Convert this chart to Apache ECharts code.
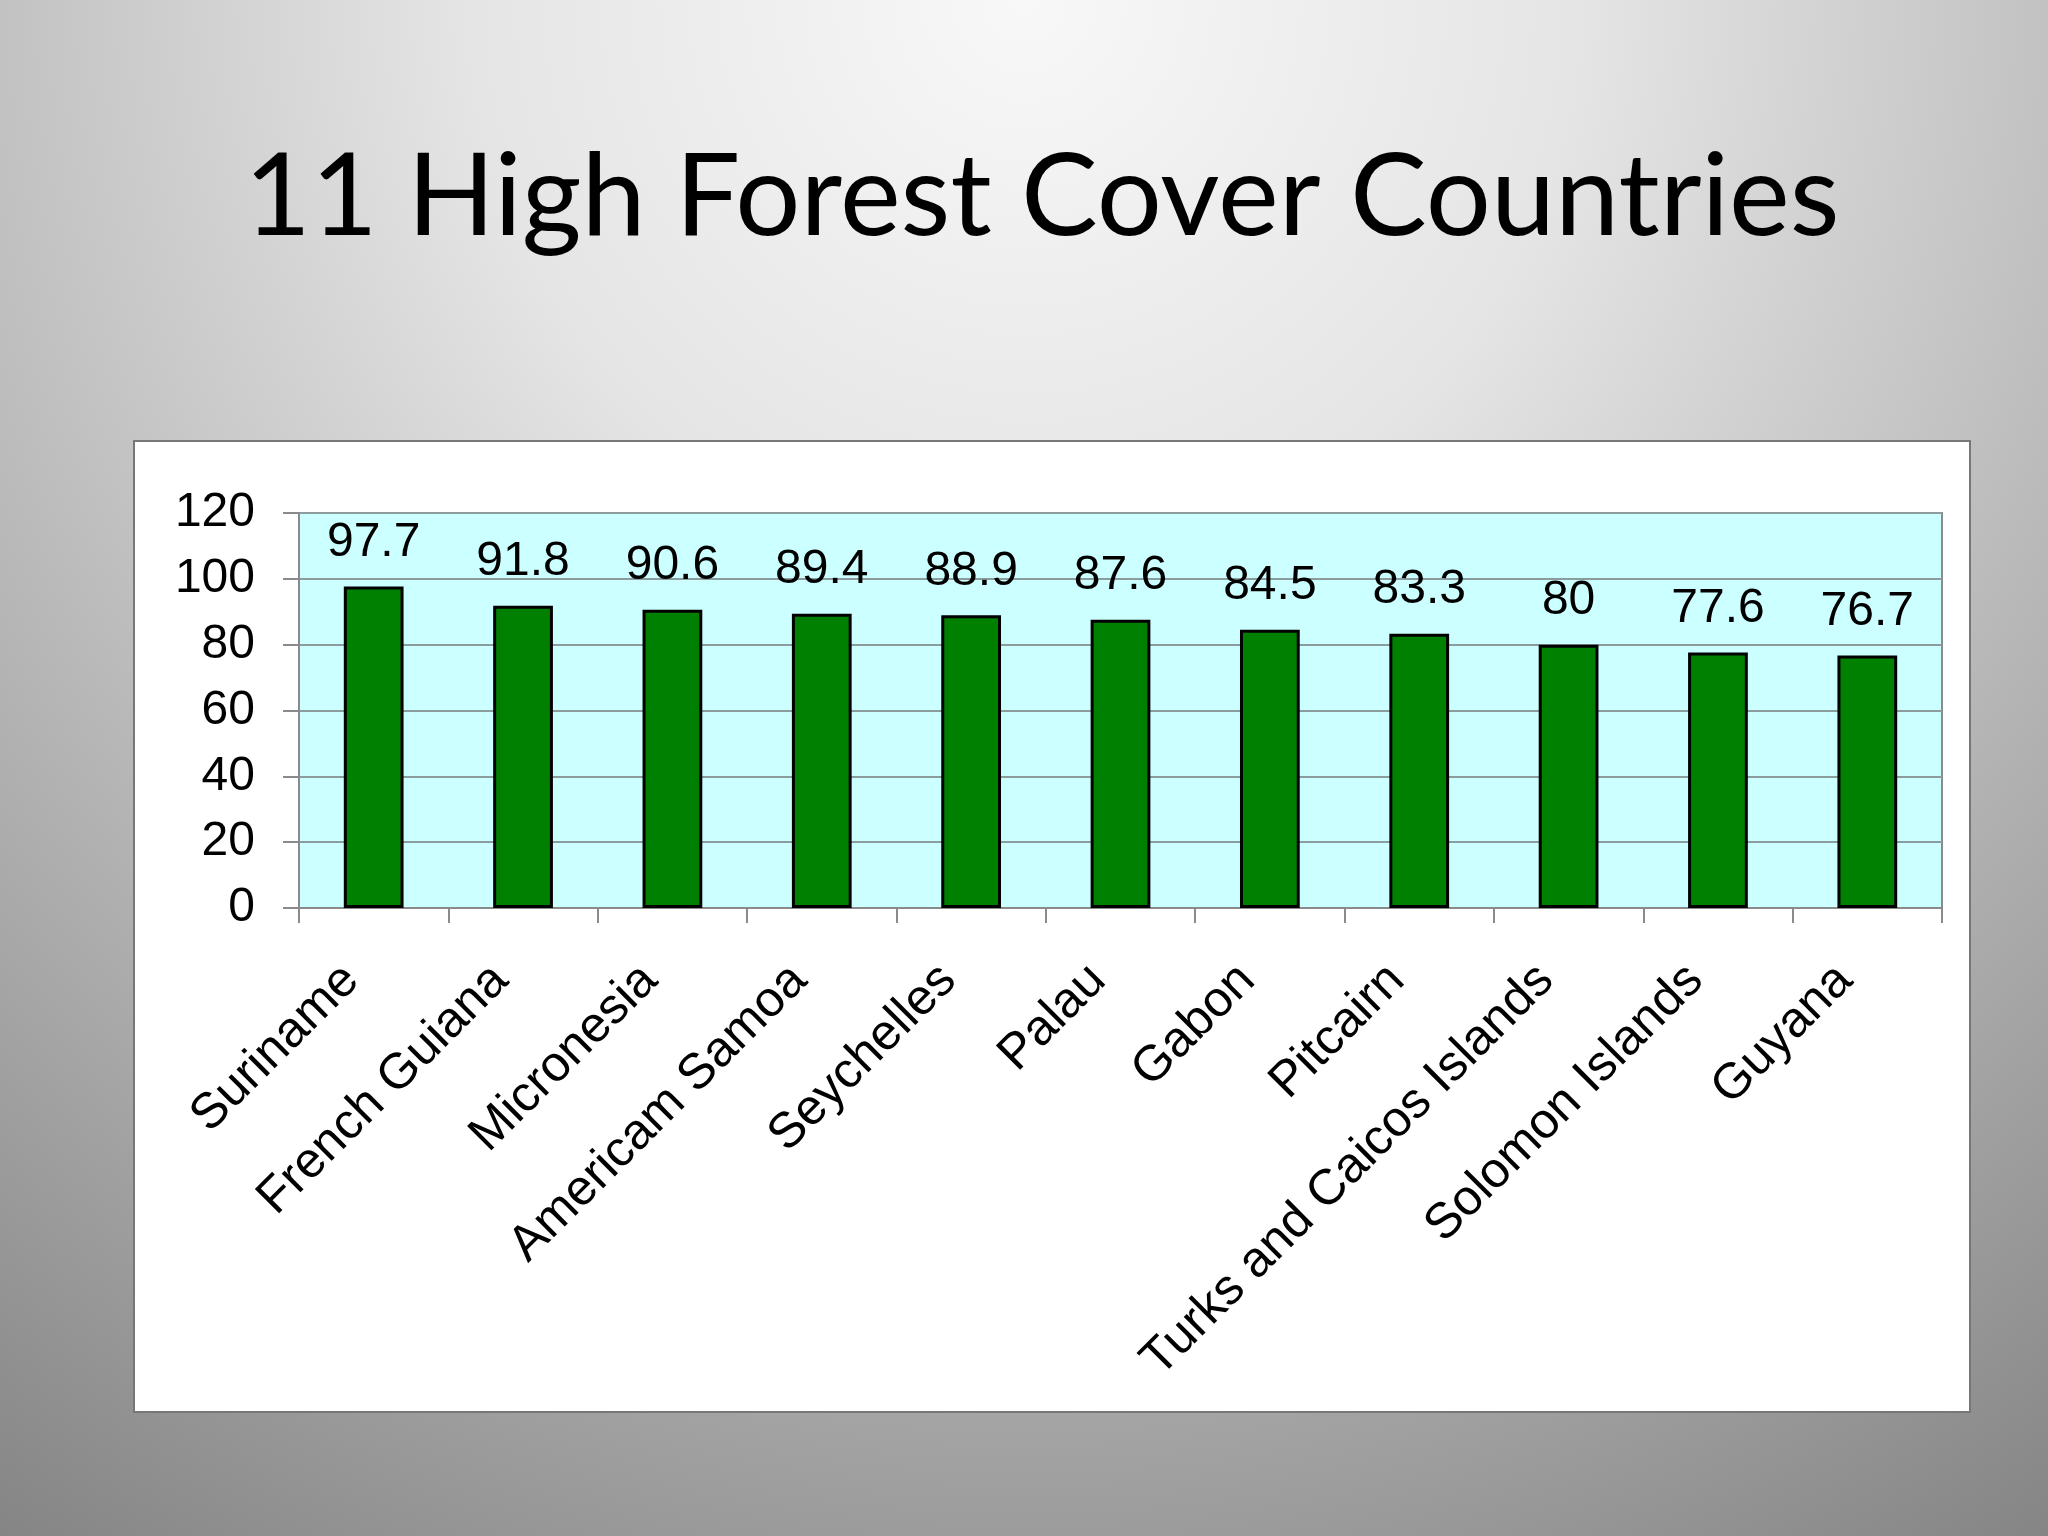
<!DOCTYPE html>
<html lang="en">
<head>
    <meta charset="UTF-8">
    <title>11 High Forest Cover Countries</title>
    <script src="https://cdn.jsdelivr.net/npm/echarts@6/dist/echarts.min.js"></script>
    <style>
        html, body { margin: 0; padding: 0; }
        #chart { width: 2048px; height: 1536px; }
    </style>
</head>
<body>
<div id="chart"></div>
<script>
// forest cover, percent of land area
const countries = ['Suriname', 'French Guiana', 'Micronesia', 'Americam Samoa', 'Seychelles',
    'Palau', 'Gabon', 'Pitcairn', 'Turks and Caicos Islands', 'Solomon Islands', 'Guyana'];
const forestCover = [97.7, 91.8, 90.6, 89.4, 88.9, 87.6, 84.5, 83.3, 80, 77.6, 76.7];
const yTicks = { min: 0, max: 120, step: 20 };

const arial = 'Liberation Sans, Arial, sans-serif';

let chart = echarts.init(document.getElementById('chart'));

chart.setOption({
    animation: false,
    backgroundColor: {
        type: 'radial', x: 0.5, y: 0, r: 1.2,
        colorStops: [
            { offset: 0, color: '#f8f8f8' },
            { offset: 0.3, color: '#e5e5e5' },
            { offset: 1, color: '#858585' }
        ]
    },
    graphic: [
        {
            type: 'rect', z: -10,
            shape: { x: 134, y: 441, width: 1836, height: 971 },
            style: { fill: '#ffffff', stroke: '#777777', lineWidth: 2 }
        },
        {
            type: 'text', z: 10,
            style: {
                x: 1042, y: 198, text: '11 High Forest Cover Countries',
                fontFamily: 'Lato, sans-serif', fontSize: 115, fill: '#000000',
                textAlign: 'center', textVerticalAlign: 'middle'
            }
        }
    ],
    grid: {
        left: 299, top: 513, width: 1643, height: 395,
        show: true, backgroundColor: '#ccffff',
        borderColor: '#8a8a8a', borderWidth: 2,
        containLabel: false
    },
    xAxis: {
        type: 'category',
        data: countries,
        axisLine: { lineStyle: { color: '#8a8a8a', width: 2 } },
        axisTick: { show: true, length: 15, lineStyle: { color: '#8a8a8a', width: 2 } },
        axisLabel: {
            interval: 0, rotate: 45, margin: 42,
            padding: [0, 32, 0, 0],
            fontFamily: arial, fontSize: 50, color: '#000000'
        }
    },
    yAxis: {
        type: 'value',
        min: yTicks.min, max: yTicks.max, interval: yTicks.step,
        axisLine: { show: true, lineStyle: { color: '#8a8a8a', width: 2 } },
        axisTick: { show: true, length: 16, lineStyle: { color: '#8a8a8a', width: 2 } },
        axisLabel: { margin: 44, fontFamily: arial, fontSize: 48, color: '#000000' },
        splitLine: { lineStyle: { color: '#8a9c9c', width: 2 } }
    },
    series: [{
        type: 'bar',
        data: forestCover,
        barWidth: '40%',
        itemStyle: { color: '#008000', borderColor: '#000000', borderWidth: 3 },
        label: {
            show: true, position: 'top', distance: 20,
            fontFamily: arial, fontSize: 48, color: '#000000'
        }
    }]
});
</script>
</body>
</html>
